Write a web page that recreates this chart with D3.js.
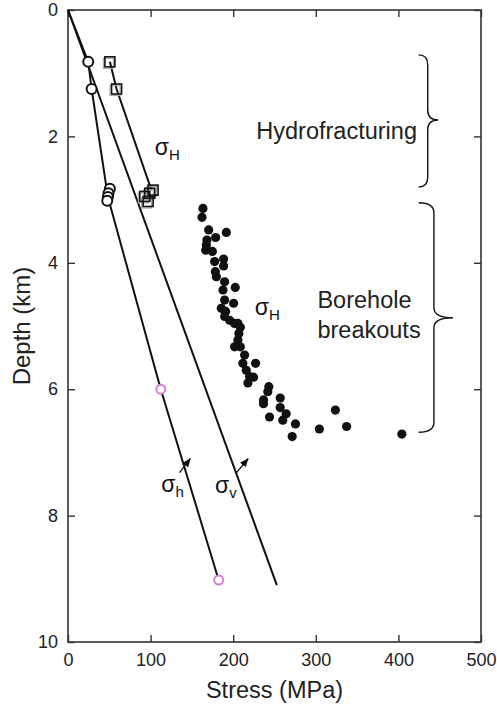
<!DOCTYPE html>
<html>
<head>
<meta charset="utf-8">
<script src="https://cdn.jsdelivr.net/npm/d3@7"></script>
<style>
  body { margin: 0; background: #fff; }
  svg { display: block; font-family: "Liberation Sans", Arial, Helvetica, sans-serif; }
</style>
</head>
<body>
<script>
// stress in MPa, depth in km
const xTicks = [0, 100, 200, 300, 400, 500];
const yTicks = [0, 2, 4, 6, 8, 10];

// hydrofracturing, sigma_h (open circles)
const hfShmin = [[24.5, 0.82], [28.6, 1.25], [50.7, 2.83], [49, 2.9], [48.3, 2.96], [47.5, 3.02]];
// hydrofracturing, sigma_H (open squares)
const hfSHmax = [[50.7, 0.82], [58.8, 1.25], [103, 2.85], [99, 2.9], [93, 2.95], [97, 3.03]];
// extrapolated sigma_h points (pink)
const pinkPts = [[112.3, 6.0], [182.4, 9.02]];
// breakouts, sigma_H (filled dots)
const breakouts = [
  [163.4, 3.14], [162.2, 3.28], [170.3, 3.48], [191.7, 3.52], [178.7, 3.60], [168.2, 3.64],
  [167.5, 3.72], [166.7, 3.80], [174.8, 3.82], [177.5, 3.98], [188.4, 3.94], [188.4, 4.05],
  [178.4, 4.14], [179.6, 4.22], [189.6, 4.30], [202.5, 4.39], [187.6, 4.43], [189.6, 4.59],
  [200.5, 4.64], [185.6, 4.72], [190.8, 4.77], [189.6, 4.85], [195.7, 4.91], [201.7, 4.96],
  [205.7, 4.96], [208.6, 5.02], [206.9, 5.12], [205.7, 5.22], [201.7, 5.33], [208.6, 5.33],
  [213.8, 5.46], [211.7, 5.59], [227.1, 5.59], [215.8, 5.70], [219.8, 5.80], [224.6, 5.81],
  [217.8, 5.90], [243.1, 5.96], [241.9, 6.04], [236.7, 6.17], [236.7, 6.23], [256.9, 6.14],
  [256.9, 6.29], [244.0, 6.44], [264.1, 6.39], [260.0, 6.49], [275.4, 6.55], [323.7, 6.33],
  [304.3, 6.63], [337.3, 6.59], [271.4, 6.75], [404.2, 6.71]
];
// stress lines
const lineSv = [[0, 0], [252.8, 9.1]];
const lineSh = [[0, 0], [24.5, 0.82], [28.6, 1.25], [48.3, 2.96], [112.3, 6.0], [182.4, 9.02]];
const lineSH = [[50.7, 0.82], [58.8, 1.25], [101, 2.85]];

const width = 497, height = 707;
const x = d3.scaleLinear([0, 500], [68, 481]);
const y = d3.scaleLinear([0, 10], [10, 642]);
const ink = '#111';

const svg = d3.select('body').append('svg')
  .attr('width', width)
  .attr('height', height)
  .attr('viewBox', [0, 0, width, height]);

// frame + inward ticks
svg.append('rect')
  .attr('x', x(0)).attr('y', y(0))
  .attr('width', x(500) - x(0)).attr('height', y(10) - y(0))
  .attr('fill', 'none').attr('stroke', '#333').attr('stroke-width', 1.6);

const styleAxis = g => {
  g.select('.domain').remove();
  g.selectAll('.tick line').attr('stroke', '#333').attr('stroke-width', 1.4);
  g.selectAll('.tick text').attr('fill', '#222').attr('font-size', 18)
    .attr('font-family', '"Liberation Sans", Arial, sans-serif');
};

svg.append('g').attr('transform', `translate(0,${y(10)})`)
  .call(d3.axisBottom(x).tickValues(xTicks).tickSizeInner(-7).tickSizeOuter(0).tickPadding(11))
  .call(styleAxis);
svg.append('g').attr('transform', `translate(0,${y(0)})`)
  .call(d3.axisTop(x).tickValues(xTicks).tickSizeInner(-7).tickSizeOuter(0).tickFormat(''))
  .call(styleAxis);
svg.append('g').attr('transform', `translate(${x(0)},0)`)
  .call(d3.axisLeft(y).tickValues(yTicks).tickSizeInner(-7).tickSizeOuter(0).tickPadding(10))
  .call(styleAxis);
svg.append('g').attr('transform', `translate(${x(500)},0)`)
  .call(d3.axisRight(y).tickValues(yTicks).tickSizeInner(-7).tickSizeOuter(0).tickFormat(''))
  .call(styleAxis);

// axis titles
svg.append('text')
  .attr('x', (x(0) + x(500)) / 2).attr('y', 698)
  .attr('text-anchor', 'middle').attr('font-size', 23.5).attr('fill', '#222')
  .text('Stress (MPa)');
svg.append('text')
  .attr('transform', `translate(30,${y(5)}) rotate(-90)`)
  .attr('text-anchor', 'middle').attr('font-size', 24).attr('fill', '#222')
  .text('Depth (km)');

// lines
const line = d3.line().x(d => x(d[0])).y(d => y(d[1]));
svg.append('g')
  .attr('fill', 'none').attr('stroke', ink).attr('stroke-width', 2)
  .selectAll('path')
  .data([lineSv, lineSh, lineSH])
  .join('path')
  .attr('d', line);

// squares (with faint grey offset)
const sq = 10;
svg.append('g').selectAll('rect')
  .data(hfSHmax)
  .join('rect')
  .attr('x', d => x(d[0]) - sq / 2 - 1.5).attr('y', d => y(d[1]) - sq / 2 + 1.5)
  .attr('width', sq).attr('height', sq)
  .attr('fill', 'none').attr('stroke', '#aaa').attr('stroke-width', 1.2);
svg.append('g').selectAll('rect')
  .data(hfSHmax)
  .join('rect')
  .attr('x', d => x(d[0]) - sq / 2).attr('y', d => y(d[1]) - sq / 2)
  .attr('width', sq).attr('height', sq)
  .attr('fill', 'none').attr('stroke', ink).attr('stroke-width', 1.6);

// open circles
svg.append('g').selectAll('circle')
  .data(hfShmin)
  .join('circle')
  .attr('cx', d => x(d[0])).attr('cy', d => y(d[1])).attr('r', 5)
  .attr('fill', '#fff').attr('stroke', ink).attr('stroke-width', 2);

// pink circles
svg.append('g').selectAll('circle')
  .data(pinkPts)
  .join('circle')
  .attr('cx', d => x(d[0])).attr('cy', d => y(d[1])).attr('r', 4.5)
  .attr('fill', '#fff').attr('stroke', '#d77fd6').attr('stroke-width', 2);

// breakouts
svg.append('g').selectAll('circle')
  .data(breakouts)
  .join('circle')
  .attr('cx', d => x(d[0])).attr('cy', d => y(d[1])).attr('r', 4.6)
  .attr('fill', ink);

// sigma labels
const sigma = (sx, sy, sub) => {
  const t = svg.append('text')
    .attr('x', x(sx)).attr('y', y(sy))
    .attr('font-size', 23).attr('fill', ink);
  t.append('tspan').text('σ');
  t.append('tspan').attr('font-size', 15).attr('dy', 5).text(sub);
};
sigma(105, 2.3, 'H');
sigma(226, 4.82, 'H');
sigma(113, 7.62, 'h');
sigma(178, 7.64, 'v');

// small arrows
svg.append('defs').append('marker')
  .attr('id', 'ah').attr('viewBox', '0 0 10 10').attr('refX', 9).attr('refY', 5)
  .attr('markerWidth', 7).attr('markerHeight', 7).attr('orient', 'auto')
  .append('path').attr('d', 'M0,1L10,5L0,9z').attr('fill', ink);
const arrows = [[[135, 7.32], [148, 7.1]], [[204, 7.32], [218, 7.1]]];
svg.append('g').selectAll('line')
  .data(arrows)
  .join('line')
  .attr('x1', d => x(d[0][0])).attr('y1', d => y(d[0][1]))
  .attr('x2', d => x(d[1][0])).attr('y2', d => y(d[1][1]))
  .attr('stroke', ink).attr('stroke-width', 1.3).attr('marker-end', 'url(#ah)');

// region labels
svg.append('text').attr('x', x(228)).attr('y', y(1.91) + 8)
  .attr('font-size', 23.5).attr('fill', '#222').text('Hydrofracturing');
svg.append('text').attr('x', x(302)).attr('y', y(4.59) + 8)
  .attr('font-size', 23.5).attr('fill', '#222').text('Borehole');
svg.append('text').attr('x', x(302)).attr('y', y(5.06) + 8)
  .attr('font-size', 23.5).attr('fill', '#222').text('breakouts');

// curly braces
const brace = (s0, sBody, sTip, dTop, dMid, dBot) => {
  const x0 = x(s0), xb = x(sBody), xt = x(sTip);
  const yt = y(dTop), ym = y(dMid), yb = y(dBot);
  const r = 10;
  return `M${x0},${yt} Q${xb},${yt} ${xb},${yt + r} L${xb},${ym - r} Q${xb},${ym} ${xt},${ym}`
    + ` Q${xb},${ym} ${xb},${ym + r} L${xb},${yb - r} Q${xb},${yb} ${x0},${yb}`;
};
svg.append('g')
  .attr('fill', 'none').attr('stroke', ink).attr('stroke-width', 1.4)
  .selectAll('path')
  .data([[424.5, 435.5, 448, 0.71, 1.74, 2.8], [424.5, 443, 466, 3.05, 4.87, 6.68]])
  .join('path')
  .attr('d', d => brace(...d));
</script>
</body>
</html>
